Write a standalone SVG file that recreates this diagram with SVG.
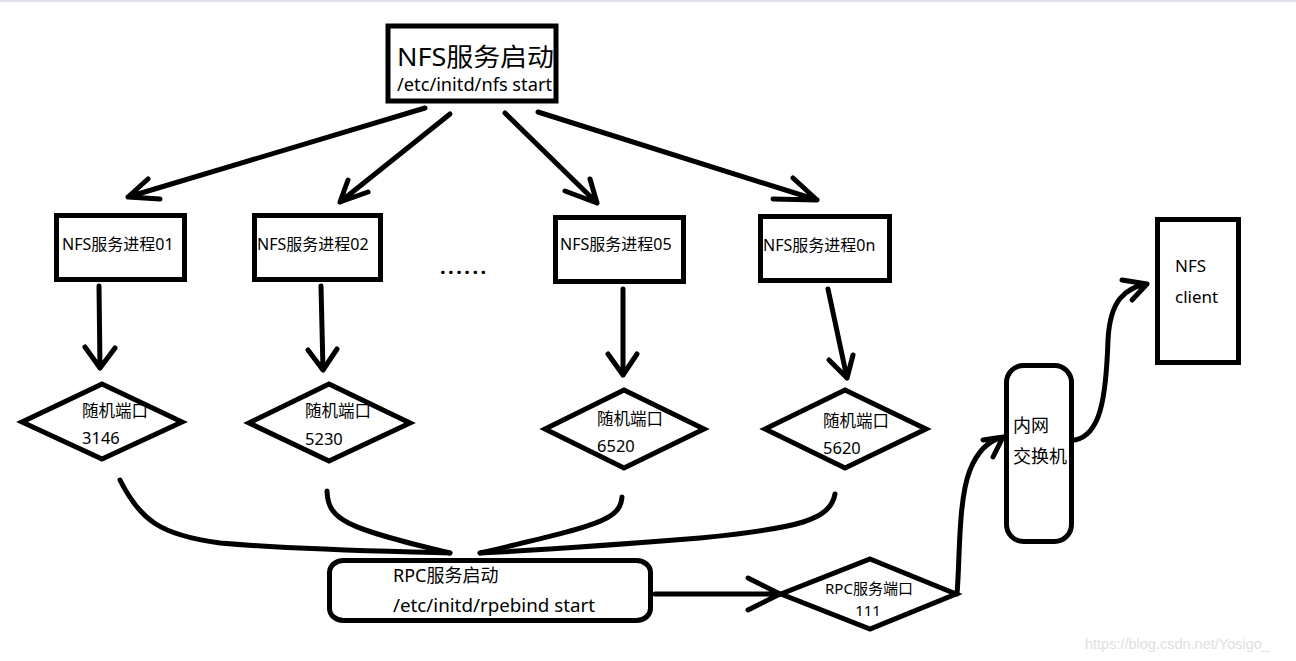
<svg xmlns="http://www.w3.org/2000/svg" width="1296" height="661" viewBox="0 0 1296 661">
<style>
.s{fill:#fff;stroke:#000;stroke-width:5}
.c{fill:none;stroke:#000;stroke-width:5;stroke-linecap:round;stroke-linejoin:round}
text{font-family:"Noto Sans","Noto Sans CJK SC",sans-serif;fill:#000}
.p{font-size:16px}
.d{font-size:16.5px}
.w{font-size:18px}
</style>
<rect x="0" y="0" width="1296" height="661" fill="#fff"/>
<line x1="0" y1="1" x2="1296" y2="1" stroke="#dfe3ea" stroke-width="2"/>
<g id="connectors" class="c">
<path d="M425,108 L128,197 M148,179 L128,197 L160,199"/>
<path d="M450,114 L340,202 M348,180 L340,202 L368,192"/>
<path d="M505,113 L597,203 M590,179 L597,203 L565,191"/>
<path d="M538,112 L817,200 M793,178 L817,200 L773,199"/>
<path d="M99,286 L100,368 M85,347 L100,368 L115,348"/>
<path d="M321,286 L323,370 M308,350 L323,370 L337,349"/>
<path d="M623,289 L623,375 M608,354 L623,375 L637,354"/>
<path d="M828,289 L847,378 M829,360 L847,378 L853,355"/>
<path d="M120,480 C140,520 160,535 220,543 C300,550 380,551 450,553"/>
<path d="M327,491 C328,520 345,528 450,553"/>
<path d="M622,497 C620,520 600,525 480,553"/>
<path d="M835,494 C830,520 800,528 700,538 C600,546 540,550 480,553"/>
<path d="M655,594 L780,594 M748,578 L780,594 L748,610"/>
<path d="M957,594 C960,560 958,500 970,470 C978,450 990,440 1003,437 M983,440 L1003,437 L993,457"/>
<path d="M1075,440 C1100,435 1106,400 1108,340 C1110,300 1125,288 1147,284 M1122,280 L1147,284 L1132,300"/>
</g>
<g id="nfs-start">
<rect class="s" x="388" y="26" width="168" height="75"/>
<text x="397" y="66" font-size="25" textLength="157" lengthAdjust="spacingAndGlyphs">NFS服务启动</text>
<text x="397" y="91" font-size="17.5" textLength="155" lengthAdjust="spacingAndGlyphs">/etc/initd/nfs start</text>
</g>
<g id="proc01">
<rect class="s" x="56.5" y="215.5" width="128" height="64"/>
<text class="p" x="62" y="250">NFS服务进程01</text>
</g>
<g id="proc02">
<rect class="s" x="254.5" y="215.5" width="126" height="64"/>
<text class="p" x="257" y="250">NFS服务进程02</text>
</g>
<g id="ellipsis">
<text x="440" y="274" font-size="20" font-weight="bold" letter-spacing="2.5">......</text>
</g>
<g id="proc05">
<rect class="s" x="555.5" y="217.5" width="128" height="64"/>
<text class="p" x="560" y="250">NFS服务进程05</text>
</g>
<g id="proc0n">
<rect class="s" x="760.5" y="216.5" width="129" height="64"/>
<text class="p" x="763" y="251">NFS服务进程0n</text>
</g>
<g id="port1">
<polygon class="s" points="102,384 182,422 102,459 22,422"/>
<text class="d" x="82" y="417">随机端口</text>
<text class="d" x="82" y="444">3146</text>
</g>
<g id="port2">
<polygon class="s" points="329,384 410,423 329,461 249,423"/>
<text class="d" x="305" y="417">随机端口</text>
<text class="d" x="305" y="445">5230</text>
</g>
<g id="port3">
<polygon class="s" points="624,390 704,429 624,468 545,429"/>
<text class="d" x="597" y="425">随机端口</text>
<text class="d" x="597" y="452">6520</text>
</g>
<g id="port4">
<polygon class="s" points="845,390 926,429 845,468 765,429"/>
<text class="d" x="823" y="427">随机端口</text>
<text class="d" x="823" y="454">5620</text>
</g>
<g id="rpc-start">
<rect class="s" x="329.5" y="560.5" width="321" height="60" rx="14" ry="12"/>
<text class="w" x="393" y="582">RPC服务启动</text>
<text class="w" x="393" y="612" textLength="202" lengthAdjust="spacingAndGlyphs">/etc/initd/rpebind start</text>
</g>
<g id="rpc-port">
<polygon class="s" points="870,559 956,594 870,629 781,594"/>
<text x="825" y="594" font-size="15">RPC服务端口</text>
<text x="868" y="616" font-size="15" text-anchor="middle">111</text>
</g>
<g id="switch">
<rect class="s" x="1006.5" y="365.5" width="65" height="176" rx="17" ry="17"/>
<text class="w" x="1013" y="432">内网</text>
<text class="w" x="1013" y="463">交换机</text>
</g>
<g id="client">
<rect class="s" x="1157.5" y="219.5" width="81" height="143"/>
<text x="1175" y="272" font-size="17">NFS</text>
<text x="1175" y="303" font-size="17">client</text>
</g>
<text x="1085" y="649" font-size="14.5" style="fill:#e0e0e0;font-family:'Liberation Sans',sans-serif">https://blog.csdn.net/Yosigo_</text>
</svg>
